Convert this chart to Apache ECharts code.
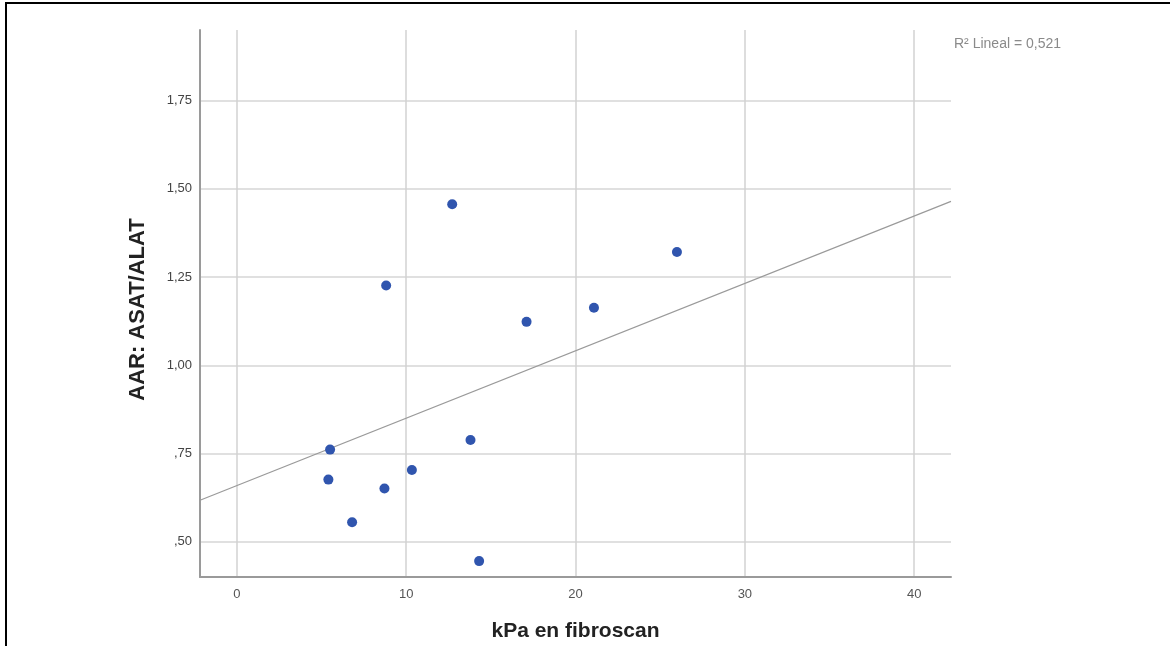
<!DOCTYPE html>
<html>
<head>
<meta charset="utf-8">
<title>AAR vs kPa en fibroscan</title>
<script src="https://cdn.jsdelivr.net/npm/echarts@6/dist/echarts.min.js"></script>
<style>
  html, body { margin: 0; padding: 0; background: #ffffff; }
  #chart { width: 1170px; height: 646px; }
</style>
</head>
<body>
<div id="chart"></div>
<script>
// Stiffness (kPa, fibroscan) per patient
const kpaValues = [5.51, 5.41, 8.72, 6.81, 10.34, 13.80, 14.31, 12.72, 8.82, 17.11, 21.09, 25.99];
// AST/ALT ratio per patient
const aarValues = [0.761, 0.676, 0.651, 0.555, 0.703, 0.788, 0.445, 1.456, 1.226, 1.123, 1.163, 1.321];

// Axis ranges and tick labels
const xRange = [-2.17, 42.17];
const yRange = [0.40, 1.95];
const xTicks = [0, 10, 20, 30, 40];
const yTicks = [0.50, 0.75, 1.00, 1.25, 1.50, 1.75];

// Linear fit: intercept, slope, R²
const fitIntercept = 0.659;
const fitSlope = 0.0191;
const fitR2 = '0,521';

const points = kpaValues.map((x, i) => [x, aarValues[i]]);
const fitLine = xRange.map(x => [x, fitIntercept + fitSlope * x]);

// Spanish-style decimal labels: ",75" and "1,25"
function fmtY(v) {
  let s = v.toFixed(2).replace('.', ',');
  if (s.startsWith('0,')) s = s.slice(1);
  return s;
}

const FONT = '"Liberation Sans", Arial, sans-serif';

const chart = echarts.init(document.getElementById('chart'), null, { renderer: 'canvas' });
chart.setOption({
  animation: false,
  backgroundColor: '#ffffff',
  title: {
    text: 'R\u00B2 Lineal = ' + fitR2,
    left: 954,
    top: 37,
    padding: 0,
    textStyle: { fontFamily: FONT, fontSize: 14, fontWeight: 'normal', color: '#8a8a8a' }
  },
  grid: { left: 200, right: 219, top: 30, bottom: 69, containLabel: false, outerBoundsMode: 'none' },
  xAxis: {
    type: 'value',
    min: xRange[0],
    max: xRange[1],
    name: 'kPa en fibroscan',
    nameLocation: 'middle',
    nameGap: 44,
    nameTextStyle: { fontFamily: FONT, fontSize: 21, fontWeight: 'bold', color: '#222' },
    axisLine: { show: true, onZero: false, lineStyle: { color: '#9a9a9a', width: 2 } },
    axisTick: { show: false, customValues: xTicks },
    axisLabel: {
      customValues: xTicks,
      margin: 11,
      fontFamily: FONT, fontSize: 13, color: '#555',
      formatter: v => String(v)
    },
    splitLine: { show: true, lineStyle: { color: '#d2d2d2', width: 1.5 } }
  },
  yAxis: {
    type: 'value',
    min: yRange[0],
    max: yRange[1],
    name: 'AAR: ASAT/ALAT',
    nameLocation: 'middle',
    nameGap: 51,
    nameTextStyle: {
      fontFamily: FONT, fontSize: 22, fontWeight: 'bold', color: '#222',
      padding: [0, 12, 0, 0]
    },
    axisLine: { show: true, onZero: false, lineStyle: { color: '#9a9a9a', width: 2 } },
    axisTick: { show: false, customValues: yTicks },
    axisLabel: {
      customValues: yTicks,
      margin: 8,
      fontFamily: FONT, fontSize: 13, color: '#444',
      formatter: fmtY
    },
    splitLine: { show: true, lineStyle: { color: '#e0e0e0', width: 2 } }
  },
  graphic: [
    // frame: top and left edges
    { type: 'line', shape: { x1: 5, y1: 3, x2: 1170, y2: 3 }, style: { stroke: '#000', lineWidth: 2 }, silent: true },
    { type: 'line', shape: { x1: 6, y1: 2, x2: 6, y2: 646 }, style: { stroke: '#000', lineWidth: 2 }, silent: true }
  ],
  series: [
    {
      type: 'line',
      data: fitLine,
      showSymbol: false,
      lineStyle: { color: '#9a9a9a', width: 1.2 },
      silent: true,
      z: 3
    },
    {
      type: 'scatter',
      data: points,
      symbol: 'circle',
      symbolSize: 10,
      itemStyle: { color: '#3055ae', opacity: 1 },
      z: 4
    }
  ]
});
</script>
</body>
</html>
